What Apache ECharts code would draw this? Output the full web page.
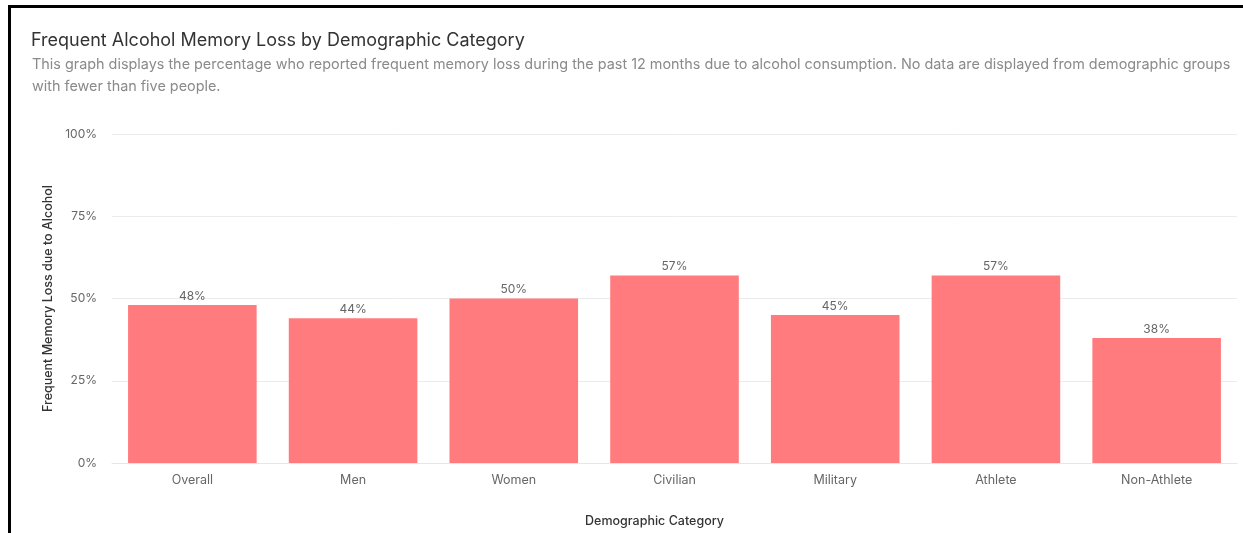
<!DOCTYPE html>
<html>
<head>
<meta charset="utf-8">
<script src="https://cdn.jsdelivr.net/npm/echarts@6/dist/echarts.min.js"></script>
<style>
  html, body { margin: 0; padding: 0; background: #fff; }
  #chart { width: 1243px; height: 533px; }
  #frame {
    position: absolute; left: 8px; top: 5px; right: 0; bottom: 0;
    border-top: 3px solid #000; border-left: 3px solid #000;
    pointer-events: none;
  }
</style>
</head>
<body>
<div id="chart"></div>
<div id="frame"></div>
<script>
const categories = ['Overall', 'Men', 'Women', 'Civilian', 'Military', 'Athlete', 'Non-Athlete'];
const memoryLossPct = [48, 44, 50, 57, 45, 57, 38];
const yTicks = [0, 25, 50, 75, 100];

const titleText = 'Frequent Alcohol Memory Loss by Demographic Category';
const subtitleLines = [
  'This graph displays the percentage who reported frequent memory loss during the past 12 months due to alcohol consumption. No data are displayed from demographic groups',
  'with fewer than five people.'
];

const FONT = 'Inter, "Noto Sans", sans-serif';
const chart = echarts.init(document.getElementById('chart'), null, { renderer: 'canvas' });

chart.setOption({
  backgroundColor: '#fff',
  animation: false,
  textStyle: { fontFamily: FONT },
  title: [
    {
      text: titleText,
      left: 26, top: 27,
      textStyle: { fontFamily: FONT, fontSize: 18, fontWeight: 'normal', color: '#333' }
    },
    {
      text: subtitleLines.join('\n'),
      left: 27, top: 49,
      textStyle: {
        fontFamily: FONT, fontSize: 14.4, fontWeight: 'normal', color: '#8a8a8a',
        lineHeight: 22
      }
    }
  ],
  grid: { left: 112, right: 6, top: 134, bottom: 69, containLabel: false },
  xAxis: {
    type: 'category',
    data: categories,
    axisLine: { show: true, lineStyle: { color: '#e6e6e6' } },
    axisTick: { show: false },
    axisLabel: { color: '#666', fontSize: 12.5, margin: 11, fontFamily: FONT },
    name: 'Demographic Category',
    nameLocation: 'middle',
    nameGap: 52,
    nameTextStyle: { color: '#333', fontSize: 12.5, fontWeight: 500, fontFamily: FONT, padding: [0, 40, 0, 0] }
  },
  yAxis: {
    type: 'value',
    min: yTicks[0], max: yTicks[yTicks.length - 1], interval: 25,
    axisLine: { show: false },
    axisTick: { show: false },
    splitLine: { lineStyle: { color: '#ececec' } },
    axisLabel: { color: '#666', fontSize: 12, margin: 15, formatter: v => v + '%', fontFamily: FONT },
    name: 'Frequent Memory Loss due to Alcohol',
    nameLocation: 'middle',
    nameGap: 57,
    nameTextStyle: { color: '#333', fontSize: 12.5, fontWeight: 500, fontFamily: FONT }
  },
  series: [{
    type: 'bar',
    data: memoryLossPct,
    barCategoryGap: '20%',
    itemStyle: { color: '#ff7b7e' },
    label: {
      show: true, position: 'top', distance: 3,
      color: '#666', fontSize: 12, fontFamily: FONT,
      formatter: p => p.value + '%'
    }
  }]
});
</script>
</body>
</html>
